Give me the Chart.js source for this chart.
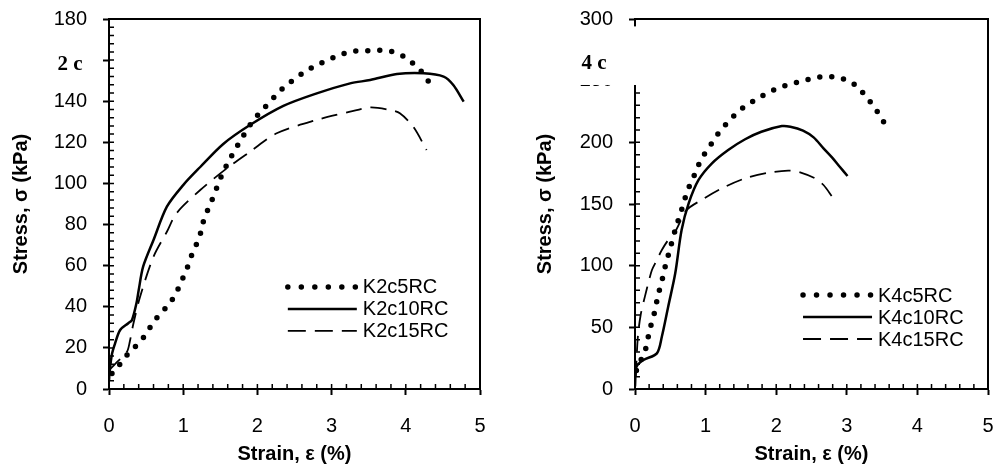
<!DOCTYPE html>
<html lang="en">
<head>
<meta charset="UTF-8">
<title>Stress-strain curves K2c / K4c</title>
<script src="https://cdn.jsdelivr.net/npm/chart.js"></script>
<style>
  body { margin: 0; background: #fff; }
  #wrap { position: relative; width: 995px; height: 469px; }
  canvas { position: absolute; top: 0; }
  #left { left: 0; }
  #right { left: 497px; }
</style>
</head>
<body>
<div id="wrap">
  <canvas id="left" width="497" height="469"></canvas>
  <canvas id="right" width="498" height="469"></canvas>
</div>
<script>
// --- data (strain %, stress kPa) ---
const k2c5Strain = [0.04, 0.15, 0.26, 0.39, 0.50, 0.59, 0.70, 0.82, 0.91, 0.98, 1.05, 1.11, 1.18, 1.24, 1.28, 1.35, 1.42, 1.48, 1.55, 1.63, 1.72, 1.81, 1.90, 2.01, 2.13, 2.25, 2.37, 2.51, 2.65, 2.81, 2.97, 3.14, 3.30, 3.48, 3.65, 3.82, 3.98, 4.12, 4.24, 4.34];
const k2c5Stress = [7.5, 12.2, 17.4, 21.9, 26.6, 32.3, 37.0, 41.5, 47.0, 52.7, 58.5, 64.7, 70.5, 76.4, 82.9, 88.7, 94.7, 100.7, 106.4, 112.0, 117.7, 123.2, 128.4, 133.5, 138.2, 142.9, 147.4, 151.0, 154.7, 157.8, 160.4, 163.0, 164.4, 164.6, 164.8, 164.1, 161.7, 157.8, 153.4, 147.7];

const k2c10Strain = [0, 0.01, 0.04, 0.08, 0.15, 0.26, 0.31, 0.37, 0.40, 0.46, 0.60, 0.78, 1.00, 1.23, 1.54, 1.90, 2.35, 2.80, 3.25, 3.52, 3.88, 4.24, 4.51, 4.64, 4.78];
const k2c10Stress = [4, 9, 17, 22, 28.7, 32, 33.6, 41.7, 48, 59.5, 72.5, 88.7, 99.2, 108, 119.2, 128.4, 137.7, 143.8, 148.7, 150.3, 153.2, 153.6, 152, 147.9, 139.8];

const k2c15Strain = [0, 0.09, 0.24, 0.28, 0.33, 0.42, 0.60, 0.78, 0.91, 1.23, 1.59, 1.90, 2.26, 2.80, 3.25, 3.52, 3.79, 3.92, 4.10, 4.28];
const k2c15Stress = [9, 12.5, 18, 23, 32, 45, 64.4, 76.5, 85.5, 96.8, 107.4, 115.4, 124.4, 130.9, 134.9, 137, 135.7, 134.1, 127.6, 116.3];

const k4c5Strain = [0.02, 0.06, 0.14, 0.18, 0.22, 0.27, 0.31, 0.35, 0.40, 0.44, 0.49, 0.54, 0.59, 0.65, 0.70, 0.76, 0.84, 0.91, 1.00, 1.11, 1.21, 1.34, 1.46, 1.61, 1.77, 1.94, 2.11, 2.28, 2.46, 2.64, 2.83, 3.01, 3.16, 3.28, 3.40, 3.49, 3.60];
const k4c5Stress = [15, 21, 29.4, 40.3, 50.5, 60.5, 71.4, 81.3, 91.9, 102.4, 112.1, 123, 133, 143.2, 153.2, 163.2, 173.3, 183, 192.2, 201.1, 210, 217.6, 225.2, 231.1, 236.8, 241.9, 245.7, 248.4, 251.1, 253.2, 253.2, 250.5, 245.1, 236.5, 228.1, 219.2, 210.5];

const k4c10Strain = [0, 0.02, 0.12, 0.31, 0.38, 0.47, 0.57, 0.66, 0.76, 0.90, 1.09, 1.32, 1.56, 1.79, 2.08, 2.20, 2.38, 2.53, 2.67, 2.79, 2.90, 3.01];
const k4c10Stress = [2, 18, 23.5, 28.9, 42.4, 66.7, 93.8, 128.9, 150.5, 169.5, 183, 193.8, 202.5, 208.6, 213.2, 212.7, 209.5, 204, 195.1, 187.8, 180.2, 172.7];

const k4c15Strain = [0.01, 0.04, 0.08, 0.14, 0.20, 0.24, 0.31, 0.38, 0.47, 0.57, 0.73, 0.94, 1.23, 1.56, 1.89, 2.17, 2.31, 2.55, 2.67, 2.80];
const k4c15Stress = [10, 42, 60, 74.9, 88.4, 96.5, 104.6, 112.7, 120.8, 127.6, 145, 153.2, 162.7, 170.8, 175.4, 177, 176.2, 170.8, 165.4, 155.4];

const leftLabels = ['K2c5RC', 'K2c10RC', 'K2c15RC'];
const rightLabels = ['K4c5RC', 'K4c10RC', 'K4c15RC'];
const xTitle = 'Strain, ε (%)';
const yTitle = 'Stress, σ (kPa)';

const FONT = "'Liberation Sans', Arial, sans-serif";

function pts(xs, ys) {
  return xs.map((x, i) => ({ x: x, y: ys[i] }));
}

// line looks: dotted / solid / dashed
const looks = [
  { borderWidth: 5.5, borderDash: [0, 12], borderCapStyle: 'round', tension: 0, legendDash: [0, 13.5] },
  { borderWidth: 2.5, borderDash: [], borderCapStyle: 'butt', tension: 0.3, legendDash: [] },
  { borderWidth: 1.8, borderDash: [16, 9], borderCapStyle: 'butt', tension: 0.3, legendDash: [18, 9] }
];

function makeSets(labels, series) {
  return labels.map((lab, i) => Object.assign({
    label: lab,
    data: series[i],
    borderColor: '#000',
    backgroundColor: '#000',
    pointRadius: 0,
    fill: false
  }, looks[i]));
}

// inner minor ticks, box frame, legend inside the plot, and panel tag
const extras = {
  id: 'extras',
  afterDraw(chart, args, opts) {
    const ctx = chart.ctx, a = chart.chartArea;
    const xs = chart.scales.x, ys = chart.scales.y;
    ctx.save();
    ctx.setLineDash([]);
    ctx.fillStyle = '#000';
    ctx.strokeStyle = '#000';
    ctx.lineCap = 'butt';
    ctx.lineWidth = 1.5;
    ctx.beginPath();
    const nx = Math.round(xs.max / opts.minorX);
    for (let i = 1; i <= nx; i++) {
      const p = xs.getPixelForValue(i * opts.minorX);
      ctx.moveTo(p, a.bottom);
      ctx.lineTo(p, a.bottom - 5);
    }
    const ny = Math.round(ys.max / opts.minorY);
    for (let i = 1; i <= ny; i++) {
      const p = ys.getPixelForValue(i * opts.minorY);
      ctx.moveTo(a.left, p);
      ctx.lineTo(a.left + 5, p);
    }
    ctx.stroke();

    // plot frame
    ctx.lineWidth = 2;
    ctx.strokeRect(a.left, a.top, a.right - a.left, a.bottom - a.top);

    // legend
    const lx = a.left + opts.legendX * (a.right - a.left);
    const ly = a.top + opts.legendY * (a.bottom - a.top);
    ctx.font = '20px ' + FONT;
    ctx.textBaseline = 'middle';
    ctx.textAlign = 'left';
    chart.data.datasets.forEach((ds, i) => {
      const y = ly + i * 22;
      ctx.lineWidth = ds.borderWidth;
      ctx.lineCap = ds.borderCapStyle;
      ctx.setLineDash(ds.legendDash);
      ctx.beginPath();
      ctx.moveTo(lx, y);
      ctx.lineTo(lx + 69, y);
      ctx.stroke();
      ctx.setLineDash([]);
      ctx.fillText(ds.label, lx + 75, y + 1);
    });

    // panel tag
    const t = opts.tag;
    if (t) {
      if (t.cover) {
        const y0 = ys.getPixelForValue(t.cover[0]);
        const y1 = ys.getPixelForValue(t.cover[1]);
        ctx.fillStyle = '#fff';
        ctx.fillRect(a.left + t.cover[2], y0, t.cover[3] - t.cover[2], y1 - y0);
      }
      ctx.fillStyle = '#000';
      ctx.font = 'bold 21px "Liberation Serif", "Times New Roman", serif';
      ctx.textAlign = 'center';
      ctx.fillText(t.text, a.left + t.dx, ys.getPixelForValue(t.y));
    }
    ctx.restore();
  }
};

function axisX() {
  return {
    type: 'linear', min: 0, max: 5,
    afterFit: s => { s.height = 80; s.paddingLeft = 0; s.paddingRight = 0; },
    ticks: { stepSize: 1, color: '#000', padding: 19, font: { family: FONT, size: 20 } },
    grid: { drawOnChartArea: false, drawTicks: true, tickLength: 6, tickWidth: 2, tickColor: '#000' },
    border: { display: true, color: '#000', width: 2 },
    title: { display: true, text: xTitle, color: '#000', padding: { top: 0, bottom: 3 }, font: { family: FONT, size: 20, weight: 'bold' } }
  };
}

function axisY(max, step, width, skip) {
  return {
    type: 'linear', min: 0, max: max,
    afterFit: s => { s.width = width; s.paddingTop = 0; s.paddingBottom = 0; },
    ticks: {
      stepSize: step, color: '#000', padding: 16, font: { family: FONT, size: 20 },
      callback: v => (v === skip ? '' : v)
    },
    grid: { drawOnChartArea: false, drawTicks: true, tickLength: 6, tickWidth: 2, tickColor: '#000' },
    border: { display: true, color: '#000', width: 2 },
    title: { display: true, text: yTitle, color: '#000', padding: { top: 9, bottom: 0 }, font: { family: FONT, size: 20, weight: 'bold' } }
  };
}

function build(id, labels, series, ymax, ystep, ywidth, skip, pad, ext) {
  return new Chart(document.getElementById(id), {
    type: 'line',
    data: { datasets: makeSets(labels, series) },
    options: {
      responsive: false,
      animation: false,
      layout: { padding: pad },
      plugins: { legend: { display: false }, tooltip: { enabled: false }, extras: ext },
      scales: {
        x: axisX(),
        y: axisY(ymax, ystep, ywidth, skip)
      }
    },
    plugins: [extras]
  });
}

build('left', leftLabels,
  [pts(k2c5Strain, k2c5Stress), pts(k2c10Strain, k2c10Stress), pts(k2c15Strain, k2c15Stress)],
  180, 20, 109, 160,
  { left: 0, top: 19, right: 17, bottom: 0 },
  { minorX: 0.2, minorY: 4, legendX: 0.482, legendY: 0.724,
    tag: { text: '2 c', dx: -39, y: 158 } });

build('right', rightLabels,
  [pts(k4c5Strain, k4c5Stress), pts(k4c10Strain, k4c10Stress), pts(k4c15Strain, k4c15Stress)],
  300, 50, 111, null,
  { left: 27, top: 19, right: 7, bottom: 0 },
  { minorX: 0.2, minorY: 10, legendX: 0.476, legendY: 0.746,
    tag: { text: '4 c', dx: -41, y: 264, cover: [294, 246.5, -65, 8] } });
</script>
</body>
</html>
